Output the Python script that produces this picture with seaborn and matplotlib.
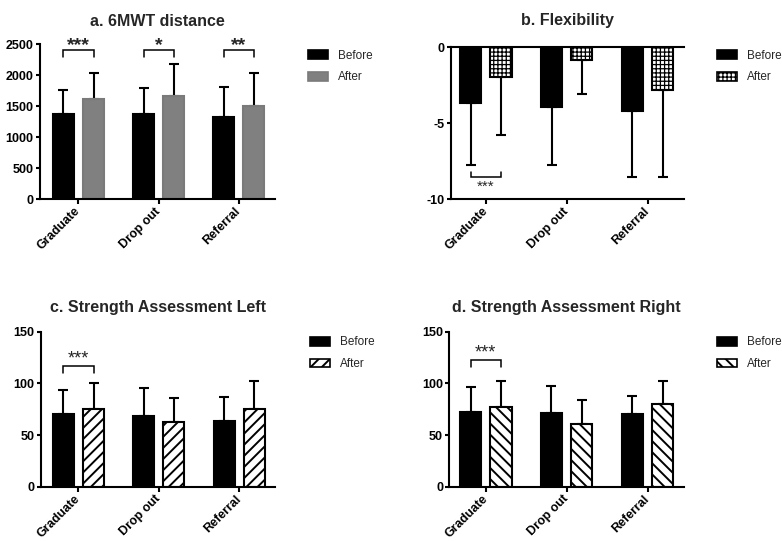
import matplotlib
matplotlib.use("Agg")
import matplotlib.pyplot as plt
from matplotlib.patches import Patch
import seaborn as sns
import pandas as pd

# ---------------- data ----------------
categories = ["Graduate", "Drop out", "Referral"]
times = ["Before", "After"]

walk_before = [1370, 1375, 1320]
walk_before_sd = [392, 414, 485]
walk_after = [1610, 1670, 1510]
walk_after_sd = [421, 507, 532]
walk_sig = ["***", "*", "**"]

flex_before = [-3.7, -3.95, -4.2]
flex_before_sd = [4.05, 3.8, 4.33]
flex_after = [-2.0, -0.85, -2.85]
flex_after_sd = [3.8, 2.25, 5.68]
flex_sig = ["***", "", ""]

left_before = [70, 68.5, 64]
left_before_sd = [23.5, 27.3, 23]
left_after = [75, 63, 75.5]
left_after_sd = [25, 22.5, 26.5]
left_sig = ["***", "", ""]

right_before = [72, 71.5, 70.3]
right_before_sd = [24, 26.2, 17.7]
right_after = [77, 60.5, 80.5]
right_after_sd = [25.6, 23.4, 22.1]
right_sig = ["***", "", ""]

titles = ["a. 6MWT distance", "b. Flexibility",
          "c. Strength Assessment Left", "d. Strength Assessment Right"]

# ---------------- style ----------------
sns.set_style("ticks")
plt.rcParams["font.family"] = ["Liberation Sans", "DejaVu Sans"]
plt.rcParams["hatch.linewidth"] = 1.4
plt.rcParams["axes.linewidth"] = 1.5

W, H = 782, 541
fig = plt.figure(figsize=(W / 100, H / 100), dpi=100)


def fig_axes(l, r, t, b):
    return fig.add_axes([l / W, 1 - b / H, (r - l) / W, (b - t) / H])


def long_df(before, after):
    return pd.DataFrame({
        "group": categories * 2,
        "time": [times[0]] * 3 + [times[1]] * 3,
        "value": list(before) + list(after),
    })


def set_hlw(patch, lw):
    try:
        patch.set_hatch_linewidth(lw)
    except AttributeError:
        pass


panels = [
    dict(before=walk_before, bsd=walk_before_sd, after=walk_after, asd=walk_after_sd,
         sig=walk_sig, box=(40, 275, 44.3, 199), xlim=(-0.48, 2.45), ylim=(0, 2500),
         yticks=[0, 500, 1000, 1500, 2000, 2500], after_color="#808080", after_edge="#7a7a7a",
         hatch=None, hlw=1.4, pad=13, leg=(308, 49.8), sig_y=(2408, 2290, 2516),
         sig_fs=14, sig_w="bold", neg=False),
    dict(before=flex_before, bsd=flex_before_sd, after=flex_after, asd=flex_after_sd,
         sig=flex_sig, box=(451, 684, 47, 199), xlim=(-0.43, 2.45), ylim=(-10, 0),
         yticks=[0, -5, -10], after_color="white", after_edge="black",
         hatch="++++", hlw=0.9, pad=16, leg=(717, 49.8), sig_y=(-8.53, -8.2, -9.12),
         sig_fs=11, sig_w="normal", neg=True),
    dict(before=left_before, bsd=left_before_sd, after=left_after, asd=left_after_sd,
         sig=left_sig, box=(40.7, 275, 331.7, 486.7), xlim=(-0.47, 2.445), ylim=(0, 150),
         yticks=[0, 50, 100, 150], after_color="white", after_edge="black",
         hatch="///", hlw=1.4, pad=14, leg=(310, 336.3), sig_y=(116.8, 110.3, 125.2),
         sig_fs=13, sig_w="normal", neg=False),
    dict(before=right_before, bsd=right_before_sd, after=right_after, asd=right_after_sd,
         sig=right_sig, box=(449.3, 684, 331.7, 486.7), xlim=(-0.45, 2.45), ylim=(0, 150),
         yticks=[0, 50, 100, 150], after_color="white", after_edge="black",
         hatch="\\\\\\", hlw=1.4, pad=14, leg=(717, 336.3), sig_y=(122.3, 116, 131),
         sig_fs=13, sig_w="normal", neg=False),
]

for i, p in enumerate(panels):
    ax = fig_axes(*p["box"])
    df = long_df(p["before"], p["after"])
    sns.barplot(data=df, x="group", y="value", hue="time", hue_order=times,
                order=categories, palette=["black", p["after_color"]],
                width=0.75, gap=0.3, errorbar=None, legend=False, ax=ax,
                linewidth=1.5, saturation=1)
    for bar in ax.containers[0]:
        bar.set_edgecolor("black")
    for bar in ax.containers[1]:
        bar.set_edgecolor(p["after_edge"])
        if p["hatch"]:
            bar.set_hatch(p["hatch"])
            set_hlw(bar, p["hlw"])

    # one-sided error bars
    for cont, sds in zip(ax.containers, [p["bsd"], p["asd"]]):
        for bar, sd in zip(cont, sds):
            x = bar.get_x() + bar.get_width() / 2
            y = bar.get_y() + bar.get_height()
            yerr = [[sd], [0]] if y < 0 else [[0], [sd]]
            ax.errorbar([x], [y], yerr=yerr, fmt="none", ecolor="black",
                        elinewidth=1.5, capsize=3.7, capthick=1.5, zorder=0.5)

    # significance brackets
    yl, yleg, ystar = p["sig_y"]
    for j, s in enumerate(p["sig"]):
        if not s:
            continue
        b0 = ax.containers[0][j]
        b1 = ax.containers[1][j]
        x0 = b0.get_x() + b0.get_width() / 2
        x1 = b1.get_x() + b1.get_width() / 2
        ax.plot([x0, x0, x1, x1], [yleg, yl, yl, yleg], color="black", lw=1.1,
                clip_on=False, solid_joinstyle="miter")
        ax.annotate(s, xy=((x0 + x1) / 2, ystar), xytext=(0, -0.36 * p["sig_fs"]),
                    textcoords="offset points", ha="center", va="baseline",
                    fontsize=p["sig_fs"], fontweight=p["sig_w"], annotation_clip=False)

    ax.set_xlim(*p["xlim"])
    ax.set_ylim(*p["ylim"])
    ax.set_yticks(p["yticks"])
    ax.set_yticklabels([str(v) for v in p["yticks"]], fontsize=9, fontweight="bold")
    ax.set_xticks(range(len(categories)))
    ax.set_xticklabels(categories, rotation=45, ha="right", va="center",
                       rotation_mode="anchor", fontsize=9, fontweight="bold")
    ax.set_xlabel("")
    ax.set_ylabel("")
    ax.tick_params(direction="out", length=3, width=1.5, pad=1.5, colors="black")
    ax.tick_params(axis="x", length=3.5, pad=4)
    sns.despine(ax=ax, top=not p["neg"], right=True)
    for sp in ax.spines.values():
        sp.set_linewidth(1.5)
        sp.set_color("black")
    ax.set_title(titles[i], fontsize=11.5, fontweight="bold", pad=p["pad"])

    h_after = Patch(facecolor=p["after_color"], edgecolor=p["after_edge"], linewidth=1.2,
                    hatch=p["hatch"], label=times[1])
    set_hlw(h_after, p["hlw"])
    handles = [
        Patch(facecolor="black", edgecolor="black", linewidth=1.2, label=times[0]),
        h_after,
    ]
    lx, ly = p["leg"]
    leg = fig.legend(handles=handles, loc="upper left",
                     bbox_to_anchor=(lx / W, 1 - ly / H), bbox_transform=fig.transFigure,
                     frameon=False, fontsize=8.5, borderpad=0, borderaxespad=0,
                     handlelength=1.7, handleheight=0.75, handletextpad=0.8,
                     labelspacing=0.82)
    for lp in leg.get_patches()[1:]:
        set_hlw(lp, p["hlw"])

fig.savefig("out.png", dpi=100)
